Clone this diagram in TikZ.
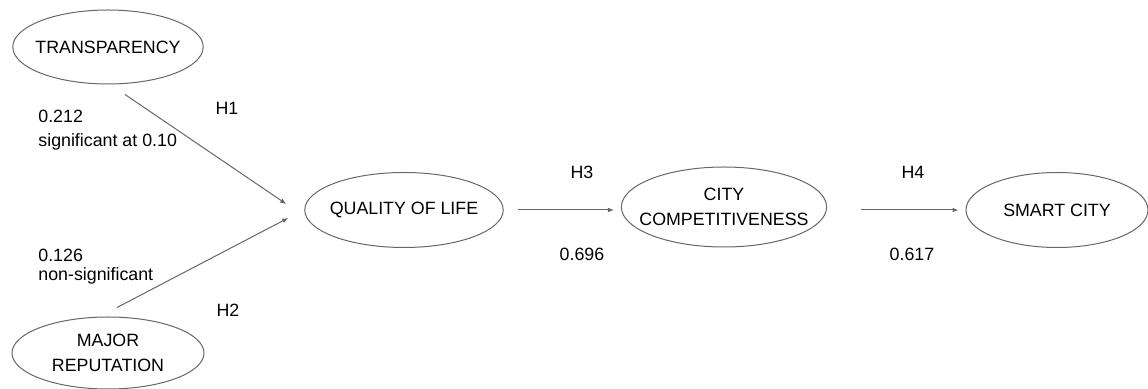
\documentclass[tikz,border=0pt]{standalone}
\usepackage{fontspec}
\setmainfont{Liberation Sans}
\usetikzlibrary{calc,shapes.geometric,arrows.meta}

\begin{document}
\begin{tikzpicture}[x=0.5pt, y=0.5pt,
        every node/.style={font=\fontsize{8.9}{12.5}\selectfont, inner sep=1pt},
        construct/.style={ellipse, draw=black!60, line width=0.5pt, align=center, inner sep=0pt},
        link/.style={draw=black!60, line width=0.5pt, -{Latex[length=3pt,width=2.4pt]}}]
        \useasboundingbox (0,0) rectangle (1148,-389);

        % Define constructs
        \node[construct, inner xsep=-2.6pt, minimum width=94.5pt, minimum height=37pt] (trans) at (108,-47) {TRANSPARENCY};
        \node[construct, minimum width=96pt, minimum height=36pt] (major) at (108,-353) {MAJOR\\REPUTATION};
        \node[construct, inner xsep=-2pt, minimum width=97.5pt, minimum height=37.5pt] (qol) at (404,-210) {QUALITY OF LIFE};
        \node[construct, inner xsep=-6pt, minimum width=102pt, minimum height=40pt] (comp) at (724,-207) {CITY\\COMPETITIVENESS};
        \node[construct, minimum width=91pt, minimum height=37.5pt] (smart) at (1057,-210) {SMART CITY};

        % Draw paths between constructs
        \draw[link] ($(trans.south)+(17,-10)$) -- ($(qol.west)+(-18,6)$);
        \draw[link] ($(major.north)+(9,9)$) -- ($(qol.west)+(-16,-8)$);
        \draw[link] ($(qol.east)+(14,0)$) -- ($(comp.west |- qol.east)+(-7,0)$);
        \draw[link] ($(comp.east |- smart.west)+(34,0)$) -- ($(smart.west)+(-7,0)$);

        % Hypotheses and coefficients
        \node (h1) at (227,-108) {H1};
        \node (h2) at (228,-310) {H2};
        \node (h3) at (582,-172) {H3};
        \node (h4) at (913,-172) {H4};
        \node[anchor=west] (c1) at (36,-116) {0.212};
        \node[anchor=west] (s1) at (36,-142) {significant at 0.10};
        \node[anchor=west] (c2) at (36,-255) {0.126};
        \node[anchor=west] (s2) at (36,-276) {non-significant};
        \node (c3) at (582,-254) {0.696};
        \node (c4) at (912,-254) {0.617};
    \end{tikzpicture}
\end{document}
